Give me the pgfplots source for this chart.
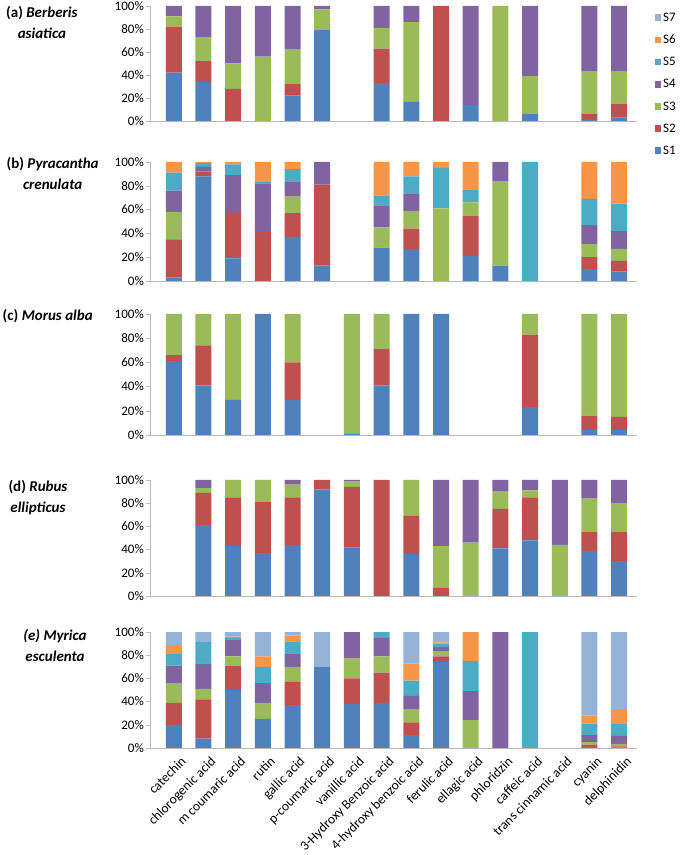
\documentclass[border=0pt]{standalone}
\usepackage{fontspec}
\setmainfont{Carlito}
\usepackage{pgfplots}
\usepackage{pgfplotstable}
\pgfplotsset{compat=1.18}

\definecolor{cS1}{HTML}{4F81BD}
\definecolor{cS2}{HTML}{C0504D}
\definecolor{cS3}{HTML}{9BBB59}
\definecolor{cS4}{HTML}{8064A2}
\definecolor{cS5}{HTML}{4BACC6}
\definecolor{cS6}{HTML}{F79646}
\definecolor{cS7}{HTML}{95B3D7}

% (a) Berberis asiatica
\pgfplotstableread{
x S1 S2 S3 S4 S5 S6 S7
0 42 40 9 9 0 0 0
1 34 18 21 27 0 0 0
2 0 28 22 50 0 0 0
3 0 0 56 44 0 0 0
4 22 10 30 38 0 0 0
5 79 0 18 3 0 0 0
6 0 0 0 0 0 0 0
7 33 30 18 19 0 0 0
8 17 0 69 14 0 0 0
9 0 100 0 0 0 0 0
10 14 0 0 86 0 0 0
11 0 0 100 0 0 0 0
12 6 0 33 61 0 0 0
13 0 0 0 0 0 0 0
14 1 5 37 57 0 0 0
15 3 12 28 57 0 0 0
}\dataA
% (b) Pyracantha crenulata
\pgfplotstableread{
x S1 S2 S3 S4 S5 S6 S7
0 3 32 23 18 15 9 0
1 88 4 0 4 3 1 0
2 19 40 0 30 9 2 0
3 0 42 0 40 1 17 0
4 37 20 14 12 11 6 0
5 13 68 0 19 0 0 0
6 0 0 0 0 0 0 0
7 28 0 17 18 9 28 0
8 27 17 15 14 15 12 0
9 0 0 61 0 34 5 0
10 21 34 11 0 11 23 0
11 13 0 71 16 0 0 0
12 0 0 0 0 100 0 0
13 0 0 0 0 0 0 0
14 10 10 11 16 22 31 0
15 8 9 10 15 23 35 0
}\dataB
% (c) Morus alba
\pgfplotstableread{
x S1 S2 S3 S4 S5 S6 S7
0 61 5 34 0 0 0 0
1 41 33 26 0 0 0 0
2 29 0 71 0 0 0 0
3 100 0 0 0 0 0 0
4 29 31 40 0 0 0 0
5 0 0 0 0 0 0 0
6 1 0 99 0 0 0 0
7 41 30 29 0 0 0 0
8 100 0 0 0 0 0 0
9 100 0 0 0 0 0 0
10 0 0 0 0 0 0 0
11 0 0 0 0 0 0 0
12 23 60 17 0 0 0 0
13 0 0 0 0 0 0 0
14 4 12 84 0 0 0 0
15 4 11 85 0 0 0 0
}\dataC
% (d) Rubus ellipticus
\pgfplotstableread{
x S1 S2 S3 S4 S5 S6 S7
0 0 0 0 0 0 0 0
1 61 28 4 7 0 0 0
2 43 42 15 0 0 0 0
3 37 44 19 0 0 0 0
4 44 41 11 4 0 0 0
5 92 8 0 0 0 0 0
6 42 52 5 1 0 0 0
7 0 100 0 0 0 0 0
8 36 33 31 0 0 0 0
9 0 7 36 57 0 0 0
10 0 0 46 54 0 0 0
11 41 34 15 10 0 0 0
12 48 37 6 9 0 0 0
13 0 0 44 56 0 0 0
14 39 16 29 16 0 0 0
15 30 25 25 20 0 0 0
}\dataD
% (e) Myrica esculenta
\pgfplotstableread{
x S1 S2 S3 S4 S5 S6 S7
0 20 19 17 15 10 8 11
1 8 34 9 22 19 0 8
2 50 21 8 14 2 1 4
3 25 0 14 17 14 9 21
4 37 20 13 11 11 5 3
5 70 0 0 0 0 0 30
6 38 22 17 23 0 0 0
7 39 26 14 16 5 0 0
8 11 11 11 12 13 15 27
9 74 5 4 4 3 1 9
10 0 0 24 25 26 25 0
11 0 0 0 100 0 0 0
12 0 0 0 0 100 0 0
13 0 0 0 0 0 0 0
14 1 2 2 6 10 7 72
15 0.5 1 2 7 10 13 66.5
}\dataE

\newcommand{\panelplots}[1]{%
  \addplot[fill=cS1,draw=none] table[x=x,y=S1]{#1};
  \addplot[fill=cS2,draw=none] table[x=x,y=S2]{#1};
  \addplot[fill=cS3,draw=none] table[x=x,y=S3]{#1};
  \addplot[fill=cS4,draw=none] table[x=x,y=S4]{#1};
  \addplot[fill=cS5,draw=none] table[x=x,y=S5]{#1};
  \addplot[fill=cS6,draw=none] table[x=x,y=S6]{#1};
  \addplot[fill=cS7,draw=none] table[x=x,y=S7]{#1};
}

\pgfplotsset{
  panel/.style={
    scale only axis,
    width=487pt,
    anchor=south west,
    xmin=-0.8, xmax=15.6,
    ymin=0, ymax=100,
    ybar stacked,
    bar width=16pt,
    axis x line*=bottom,
    axis y line*=left,
    axis line style={-,draw=gray!55},
    ytick={0,20,...,100},
    yticklabel={\pgfmathprintnumber{\tick}\%},
    /pgf/number format/assume math mode=true,
    tick align=outside,
    major tick length=4pt,
    ytick style={draw=gray!55},
    yticklabel style={font=\fontsize{13}{13}\selectfont, inner sep=2pt},
    xtick=\empty,
    clip=false,
  },
}
\tikzset{ptitle/.style={align=center, font=\bfseries\fontsize{15}{21}\selectfont, anchor=center}}

\begin{document}
\begin{tikzpicture}[x=1pt,y=1pt]
\useasboundingbox (0,0) rectangle (685,855);

% (a)
\begin{axis}[panel, at={(150pt,734pt)}, height=115pt,
  reverse legend,
  legend style={at={(1.036,0.96)}, anchor=north west, draw=none, fill=none,
    font=\fontsize{13}{13}\selectfont, row sep=8.2pt, inner sep=0pt},
  legend cell align=left,
  legend image code/.code={\fill[#1] (0pt,-3pt) rectangle (6.5pt,3.5pt);},
]
\panelplots{\dataA}
\legend{S1,S2,S3,S4,S5,S6,S7}
\node[ptitle] at (axis description cs:-0.222,0.86) {(a) \textit{Berberis}\\\textit{asiatica}};
\end{axis}

% (b)
\begin{axis}[panel, at={(150pt,574pt)}, height=119pt]
\panelplots{\dataB}
\node[ptitle] at (axis description cs:-0.2,0.9) {(b) \textit{Pyracantha}\\\textit{crenulata}};
\end{axis}

% (c)
\begin{axis}[panel, at={(150pt,420pt)}, height=121pt]
\panelplots{\dataC}
\node[ptitle] at (axis description cs:-0.21,0.985) {(c) \textit{Morus alba}};
\end{axis}

% (d)
\begin{axis}[panel, at={(150pt,259pt)}, height=116pt]
\panelplots{\dataD}
\node[ptitle] at (axis description cs:-0.23,0.845) {(d) \textit{Rubus}\\\textit{ellipticus}};
\end{axis}

% (e)
\begin{axis}[panel, at={(150pt,107pt)}, height=116pt,
  xtick={0,...,15},
  xticklabels={catechin,chlorogenic acid,m coumaric acid,rutin,gallic acid,p-coumaric acid,vanillic acid,3-Hydroxy Benzoic acid,4-hydroxy benzoic acid,ferulic acid,ellagic acid,phloridzin,caffeic acid,trans cinnamic acid,cyanin,delphinidin},
  xticklabel style={rotate=45, anchor=north east, font=\fontsize{13.5}{13.5}\selectfont, inner sep=1pt, xshift=3pt, yshift=-6pt},
  x tick style={draw=none},
  extra x ticks={-0.5,0.5,...,15.5},
  extra x tick labels={},
  extra x tick style={major tick length=5pt, tick style={draw=gray!55}},
]
\panelplots{\dataE}
\node[ptitle] at (axis description cs:-0.195,0.88) {\textit{(e) Myrica}\\\textit{esculenta}};
\end{axis}
\end{tikzpicture}
\end{document}
